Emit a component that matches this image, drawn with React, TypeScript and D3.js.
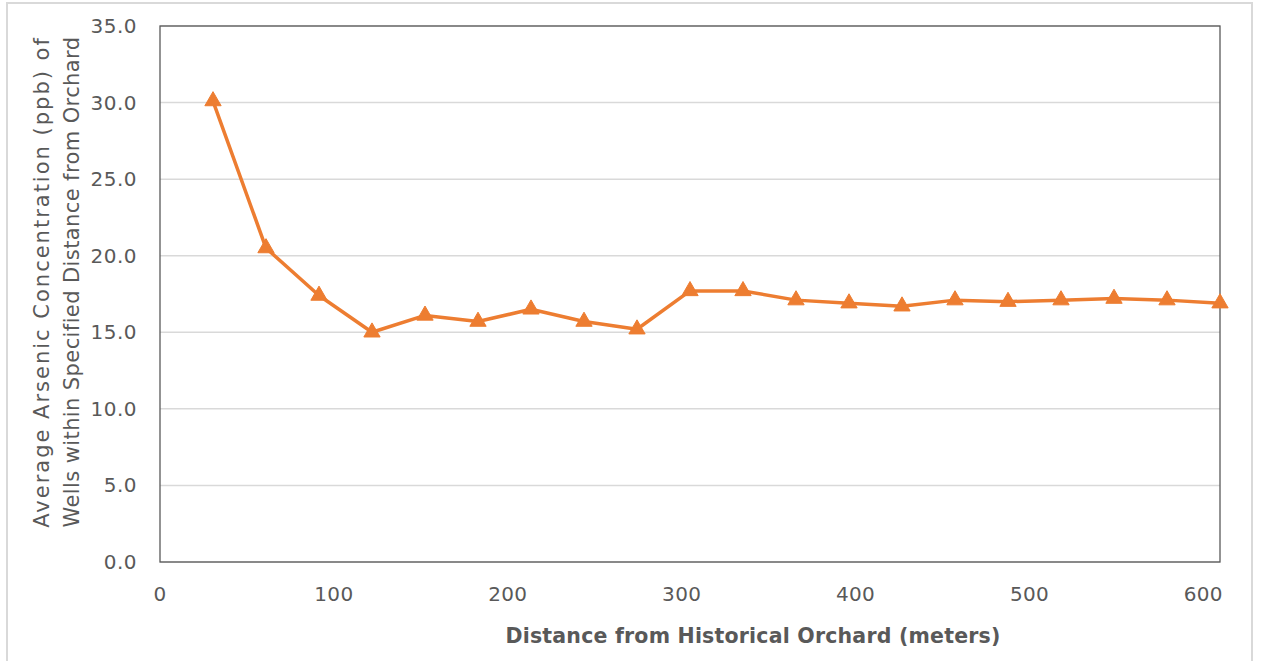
import React from "react";
import * as d3 from "d3";

// Distance bands in metres (100 ft steps) and the mean arsenic level of wells in each band
const distances = [30.48, 60.96, 91.44, 121.92, 152.4, 182.88, 213.36, 243.84, 274.32, 304.8,
  335.28, 365.76, 396.24, 426.72, 457.2, 487.68, 518.16, 548.64, 579.12, 609.6];
const arsenicPpb = [30.1, 20.5, 17.4, 15.0, 16.1, 15.7, 16.5, 15.7, 15.2, 17.7,
  17.7, 17.1, 16.9, 16.7, 17.1, 17.0, 17.1, 17.2, 17.1, 16.9];
const yTicks = [0, 5, 10, 15, 20, 25, 30, 35];
const xTicks = [0, 100, 200, 300, 400, 500, 600];

const W = 1261;
const H = 661;
const plot = { left: 160, right: 1220, top: 26, bottom: 562 };
const FONT = "'DejaVu Sans', sans-serif";
const ORANGE = "#ED7D31";
const GRAY_TEXT = "#595959";

export default function App() {
  const x = d3.scaleLinear().domain([0, 609.6]).range([plot.left, plot.right]);
  const y = d3.scaleLinear().domain([0, 35]).range([plot.bottom, plot.top]);

  const pts = distances.map((d, i) => [x(d), y(arsenicPpb[i])] as [number, number]);
  const line = d3.line()(pts) || "";
  const tri = d3.symbol().type(d3.symbolTriangle).size(115)() || "";

  return (
    <svg
      width={W}
      height={H}
      style={{ position: "absolute", left: 0, top: 0, background: "#fff" }}
      fontFamily={FONT}
    >
      <rect x={7} y={3} width={1245} height={700} fill="#fff" stroke="#d9d9d9" strokeWidth={2} />

      {yTicks.map((t) => (
        <line key={"g" + t} x1={plot.left} x2={plot.right} y1={y(t)} y2={y(t)} stroke="#d9d9d9" strokeWidth={1.5} />
      ))}

      <rect
        x={plot.left}
        y={plot.top}
        width={plot.right - plot.left}
        height={plot.bottom - plot.top}
        fill="none"
        stroke="#595959"
        strokeWidth={1.3}
      />

      {yTicks.map((t) => (
        <text key={"yt" + t} x={137} y={y(t)} dy="0.35em" textAnchor="end" fontSize={20} letterSpacing={0.5} fill={GRAY_TEXT}>
          {t.toFixed(1)}
        </text>
      ))}
      {xTicks.map((t) => (
        <text key={"xt" + t} x={x(t)} y={594} dy="0.35em" textAnchor="middle" fontSize={20} letterSpacing={0.3} fill={GRAY_TEXT}>
          {t}
        </text>
      ))}

      <path d={line} fill="none" stroke={ORANGE} strokeWidth={3.5} strokeLinejoin="round" />
      {pts.map(([px, py], i) => (
        <path key={"m" + i} d={tri} transform={`translate(${px},${py})`} fill={ORANGE} stroke={ORANGE} strokeWidth={1} />
      ))}

      <text x={753} y={636} dy="0.35em" textAnchor="middle" fontSize={20.5} letterSpacing={0.2} fontWeight="bold" fill={GRAY_TEXT}>
        Distance from Historical Orchard (meters)
      </text>

      <g transform="translate(42,282) rotate(-90)">
        <text x={0} y={0} dy="0.35em" textAnchor="middle" fontSize={21} letterSpacing={2} fill={GRAY_TEXT}>
          Average Arsenic Concentration (ppb) of
        </text>
      </g>
      <g transform="translate(72,282) rotate(-90)">
        <text x={0} y={0} dy="0.35em" textAnchor="middle" fontSize={21} letterSpacing={0.4} fill={GRAY_TEXT}>
          Wells within Specified Distance from Orchard
        </text>
      </g>
    </svg>
  );
}
